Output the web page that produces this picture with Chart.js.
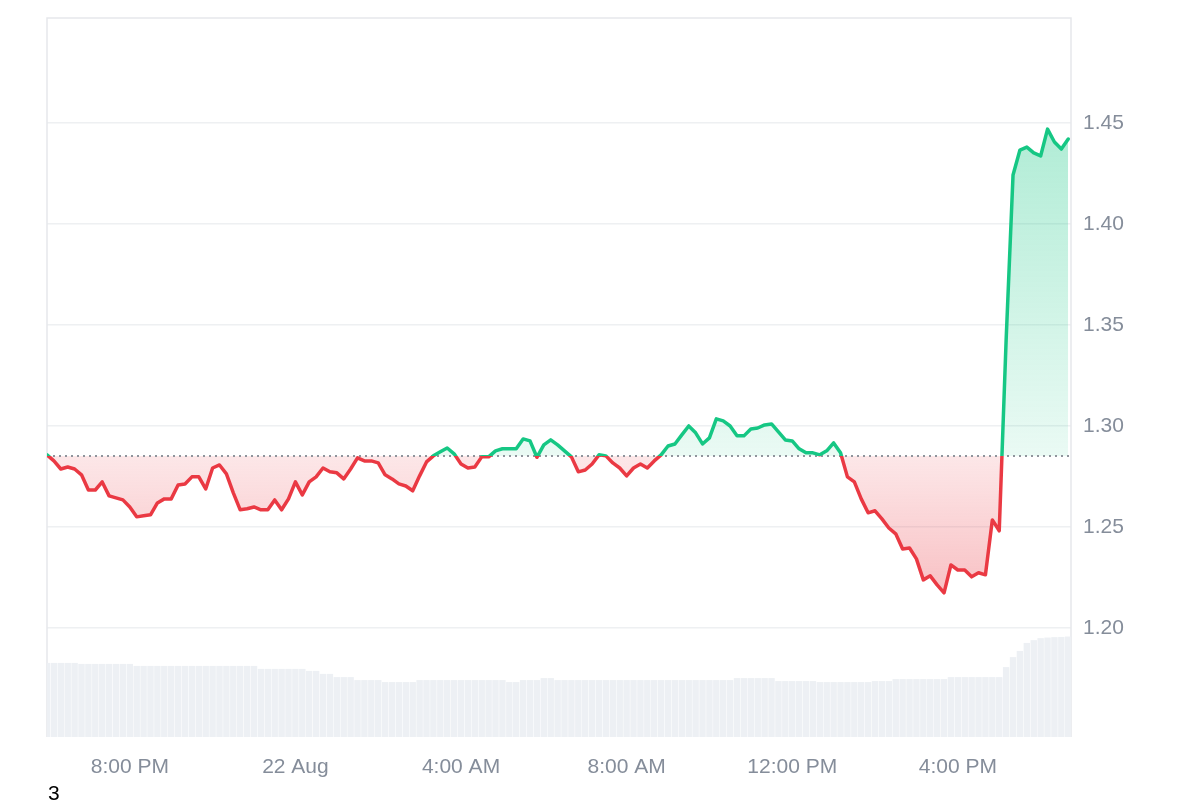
<!DOCTYPE html>
<html>
<head>
<meta charset="utf-8">
<script src="https://cdn.jsdelivr.net/npm/chart.js@4.4.1/dist/chart.umd.min.js"></script>
<style>
  html, body { margin: 0; padding: 0; background: #fff; }
  #wrap { position: relative; width: 1200px; height: 800px; }
  #footnote { position: absolute; left: 48px; top: 781px; font: 21px "Liberation Sans", Arial, sans-serif; color: #000; }
</style>
</head>
<body>
<div id="wrap">
  <canvas id="priceChart" width="1200" height="800"></canvas>
  <div id="footnote">3</div>
</div>
<script>
// price at the start of the window (dotted line)
const basePrice = 1.2851;

// one sample every 10 minutes, starting 6:00 PM, 21 Aug
const stepMinutes = 10;
const xMaxMinutes = 1484;

const priceValues = [
  1.2857, 1.2827, 1.2787, 1.2797, 1.2787, 1.2758, 1.2683, 1.2683, 1.2723, 1.2654,
  1.2644, 1.2634, 1.2599, 1.2550, 1.2555, 1.2560, 1.2619, 1.2639, 1.2639, 1.2708,
  1.2713, 1.2748, 1.2748, 1.2688, 1.2792, 1.2807, 1.2763, 1.2669, 1.2585, 1.2590,
  1.2599, 1.2585, 1.2585, 1.2634, 1.2585, 1.2639, 1.2723, 1.2659, 1.2723, 1.2748,
  1.2792, 1.2773, 1.2768, 1.2738, 1.2787, 1.2842, 1.2827, 1.2827, 1.2817, 1.2758,
  1.2738, 1.2713, 1.2703, 1.2679, 1.2753, 1.2822, 1.2852, 1.2872, 1.2891, 1.2862,
  1.2812, 1.2792, 1.2797, 1.2847, 1.2847, 1.2877, 1.2887, 1.2887, 1.2887, 1.2936,
  1.2926, 1.2845, 1.2906, 1.2931, 1.2906, 1.2877, 1.2847, 1.2773, 1.2782, 1.2812,
  1.2857, 1.2852, 1.2817, 1.2792, 1.2753, 1.2792, 1.2812, 1.2792, 1.2827, 1.2857,
  1.2901, 1.2911, 1.2956, 1.3000, 1.2966, 1.2911, 1.2941, 1.3035, 1.3025, 1.3000,
  1.2951, 1.2951, 1.2985, 1.2990, 1.3005, 1.3010, 1.2971, 1.2931, 1.2926, 1.2887,
  1.2867, 1.2867, 1.2857, 1.2877, 1.2916, 1.2867, 1.2748, 1.2723, 1.2639, 1.2570,
  1.2580, 1.2540, 1.2495, 1.2466, 1.2391, 1.2396, 1.2342, 1.2238, 1.2258, 1.2213,
  1.2174, 1.2312, 1.2287, 1.2287, 1.2253, 1.2273, 1.2263, 1.2535, 1.2481, 1.3426,
  1.4243, 1.4366, 1.4381, 1.4352, 1.4337, 1.4470, 1.4406, 1.4371, 1.4421
];

// volume (millions) for the same samples
const volumeValues = [
  3.71, 3.71, 3.71, 3.71, 3.71, 3.66, 3.66, 3.66, 3.66, 3.66,
  3.66, 3.66, 3.66, 3.56, 3.56, 3.56, 3.56, 3.56, 3.56, 3.56,
  3.56, 3.56, 3.56, 3.56, 3.56, 3.56, 3.56, 3.56, 3.56, 3.56,
  3.56, 3.41, 3.41, 3.41, 3.41, 3.41, 3.41, 3.41, 3.31, 3.31,
  3.16, 3.16, 3.00, 3.00, 3.00, 2.85, 2.85, 2.85, 2.85, 2.75,
  2.75, 2.75, 2.75, 2.75, 2.85, 2.85, 2.85, 2.85, 2.85, 2.85,
  2.85, 2.85, 2.85, 2.85, 2.85, 2.85, 2.85, 2.75, 2.75, 2.85,
  2.85, 2.85, 2.95, 2.95, 2.85, 2.85, 2.85, 2.85, 2.85, 2.85,
  2.85, 2.85, 2.85, 2.85, 2.85, 2.85, 2.85, 2.85, 2.85, 2.85,
  2.85, 2.85, 2.85, 2.85, 2.85, 2.85, 2.85, 2.85, 2.85, 2.85,
  2.95, 2.95, 2.95, 2.95, 2.95, 2.95, 2.80, 2.80, 2.80, 2.80,
  2.80, 2.80, 2.75, 2.75, 2.75, 2.75, 2.75, 2.75, 2.75, 2.75,
  2.80, 2.80, 2.80, 2.90, 2.90, 2.90, 2.90, 2.90, 2.90, 2.90,
  2.90, 3.00, 3.00, 3.00, 3.00, 3.00, 3.00, 3.00, 3.00, 3.50,
  4.00, 4.31, 4.71, 4.85, 4.95, 4.98, 5.00, 5.01, 5.03
];

// x axis ticks (minutes after 6:00 PM)
const tickMinutes = [120, 360, 600, 840, 1080, 1320];
const tickLabels = ['8:00 PM', '22 Aug', '4:00 AM', '8:00 AM', '12:00 PM', '4:00 PM'];

// y axis ticks
const yTicks = [1.20, 1.25, 1.30, 1.35, 1.40, 1.45];

const green = '#16c784';
const red = '#ea3943';
const labelColor = '#858d9a';
const fontFamily = '"Liberation Sans", Arial, sans-serif';

// gradients depend on the chart area, so build them once it is known
let gradCache = null;
function getGradients(chart) {
    const area = chart.chartArea;
    if (!area) return null;
    if (gradCache && gradCache.top === area.top && gradCache.bottom === area.bottom) {
        return gradCache;
    }
    const ctx = chart.ctx;
    const yScale = chart.scales.y;
    const baseY = yScale.getPixelForValue(basePrice);
    const stop = (baseY - area.top) / (area.bottom - area.top);

    const stroke = ctx.createLinearGradient(0, area.top, 0, area.bottom);
    stroke.addColorStop(0, green);
    stroke.addColorStop(stop, green);
    stroke.addColorStop(stop, red);
    stroke.addColorStop(1, red);

    const above = ctx.createLinearGradient(0, yScale.getPixelForValue(1.45), 0, baseY);
    above.addColorStop(0, 'rgba(22, 199, 132, 0.34)');
    above.addColorStop(1, 'rgba(22, 199, 132, 0.09)');

    const below = ctx.createLinearGradient(0, baseY, 0, yScale.getPixelForValue(1.215));
    below.addColorStop(0, 'rgba(234, 57, 67, 0.12)');
    below.addColorStop(1, 'rgba(234, 57, 67, 0.32)');

    gradCache = { top: area.top, bottom: area.bottom, stroke, above, below };
    return gradCache;
}

// thin frame on top, left and right of the plot
const framePlugin = {
    id: 'frame',
    beforeDatasetsDraw(chart) {
        const { ctx, chartArea } = chart;
        ctx.save();
        ctx.strokeStyle = '#e6e8eb';
        ctx.lineWidth = 1.5;
        ctx.beginPath();
        ctx.moveTo(chartArea.left, chartArea.bottom);
        ctx.lineTo(chartArea.left, chartArea.top);
        ctx.lineTo(chartArea.right, chartArea.top);
        ctx.lineTo(chartArea.right, chartArea.bottom);
        ctx.stroke();
        ctx.restore();
    }
};

const pricePoints = priceValues.map((v, i) => ({ x: i * stepMinutes, y: v }));
const volumePoints = volumeValues.map((v, i) => ({ x: i * stepMinutes, y: v }));

const data = {
    datasets: [
        {
            type: 'line',
            label: 'Price',
            data: pricePoints,
            yAxisID: 'y',
            order: 0,
            borderWidth: 3.5,
            borderJoinStyle: 'round',
            borderCapStyle: 'round',
            pointRadius: 0,
            tension: 0,
            borderColor: (c) => {
                const g = getGradients(c.chart);
                return g ? g.stroke : green;
            },
            fill: {
                target: { value: basePrice },
                above: (c) => {
                    const g = getGradients(c.chart);
                    return g ? g.above : 'rgba(22, 199, 132, 0.15)';
                },
                below: (c) => {
                    const g = getGradients(c.chart);
                    return g ? g.below : 'rgba(234, 57, 67, 0.15)';
                }
            }
        },
        {
            type: 'line',
            label: 'Open',
            data: [{ x: 0, y: basePrice }, { x: xMaxMinutes, y: basePrice }],
            yAxisID: 'y',
            order: 1,
            borderColor: '#8f949c',
            borderWidth: 2,
            borderDash: [2, 4],
            pointRadius: 0,
            fill: false
        },
        {
            type: 'bar',
            label: 'Volume',
            data: volumePoints,
            yAxisID: 'yVol',
            order: 3,
            backgroundColor: '#edf0f4',
            barPercentage: 0.93,
            categoryPercentage: 1
        }
    ]
};

const config = {
    type: 'line',
    data: data,
    options: {
        responsive: false,
        animation: false,
        layout: { padding: { top: 18, left: 47, right: 0, bottom: 0 } },
        plugins: {
            legend: { display: false },
            tooltip: { enabled: false },
            filler: { drawTime: 'beforeDatasetsDraw' }
        },
        scales: {
            x: {
                type: 'linear',
                min: 0,
                max: xMaxMinutes,
                offset: false,
                grid: { display: false, drawTicks: false },
                border: { display: false },
                afterBuildTicks: (scale) => {
                    scale.ticks = tickMinutes.map(v => ({ value: v }));
                },
                afterFit: (scale) => {
                    scale.height = 63;
                    scale.paddingLeft = 0;
                    scale.paddingRight = 0;
                },
                ticks: {
                    padding: 18,
                    maxRotation: 0,
                    autoSkip: false,
                    color: labelColor,
                    font: { family: fontFamily, size: 21 },
                    callback: (value) => {
                        const idx = tickMinutes.indexOf(value);
                        return idx >= 0 ? tickLabels[idx] : '';
                    }
                }
            },
            y: {
                type: 'linear',
                position: 'right',
                min: 1.146,
                max: 1.502,
                grid: { color: '#eef0f2', lineWidth: 1.5, drawTicks: false },
                border: { display: false },
                afterBuildTicks: (scale) => {
                    scale.ticks = yTicks.map(v => ({ value: v }));
                },
                afterFit: (scale) => {
                    scale.width = 129;
                    scale.paddingTop = 0;
                    scale.paddingBottom = 0;
                },
                ticks: {
                    padding: 12,
                    color: labelColor,
                    font: { family: fontFamily, size: 21 },
                    callback: (value) => Number(value).toFixed(2)
                }
            },
            yVol: {
                type: 'linear',
                display: false,
                min: 0,
                max: 36
            }
        }
    },
    plugins: [framePlugin]
};

const ctx = document.getElementById('priceChart').getContext('2d');
window.priceChart = new Chart(ctx, config);
</script>
</body>
</html>
